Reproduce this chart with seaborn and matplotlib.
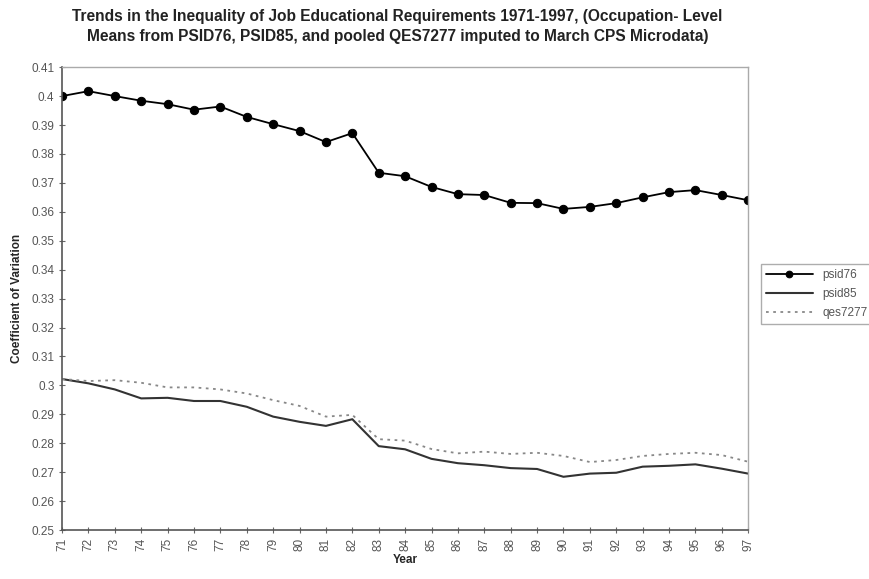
import matplotlib
matplotlib.use("Agg")
import matplotlib.pyplot as plt
import matplotlib.ticker as mticker
import seaborn as sns
import pandas as pd

# data
years = list(range(71, 98))
psid76 = [0.4000, 0.4017, 0.4000, 0.3984, 0.3972, 0.3953, 0.3964, 0.3928, 0.3903,
          0.3879, 0.3841, 0.3872, 0.3735, 0.3723, 0.3686, 0.3661, 0.3658, 0.3631,
          0.3630, 0.3610, 0.3617, 0.3630, 0.3650, 0.3668, 0.3675, 0.3658, 0.3640]
psid85 = [0.3022, 0.3007, 0.2986, 0.2955, 0.2957, 0.2946, 0.2946, 0.2926, 0.2892,
          0.2874, 0.2860, 0.2883, 0.2790, 0.2779, 0.2746, 0.2731, 0.2724, 0.2714,
          0.2711, 0.2684, 0.2695, 0.2698, 0.2719, 0.2722, 0.2727, 0.2712, 0.2695]
qes7277 = [0.3022, 0.3015, 0.3018, 0.3009, 0.2993, 0.2993, 0.2986, 0.2972, 0.2949,
           0.2929, 0.2892, 0.2898, 0.2814, 0.2809, 0.2780, 0.2765, 0.2771, 0.2763,
           0.2767, 0.2756, 0.2735, 0.2742, 0.2756, 0.2763, 0.2767, 0.2759, 0.2736]
title = ("Trends in the Inequality of Job Educational Requirements 1971-1997, (Occupation- Level\n"
         "Means from PSID76, PSID85, and pooled QES7277 imputed to March CPS Microdata)")

df = pd.DataFrame({"year": years, "psid76": psid76, "psid85": psid85, "qes7277": qes7277})

sns.set_theme(style="white")
plt.rcParams["font.family"] = ["Liberation Sans", "DejaVu Sans"]

fig = plt.figure(figsize=(8.7, 5.79), dpi=100)
ax = fig.add_axes([0.0713, 0.0846, 0.7887, 0.7994])

sns.lineplot(data=df, x="year", y="psid76", ax=ax, color="black", linewidth=1.3,
             marker="o", markersize=6, markeredgecolor="black", label="psid76")
sns.lineplot(data=df, x="year", y="psid85", ax=ax, color="#333333", linewidth=1.5,
             label="psid85")
sns.lineplot(data=df, x="year", y="qes7277", ax=ax, color="#888888", linewidth=1.3,
             linestyle=(0, (1.5, 2.5)), label="qes7277")

ax.set_xlim(71, 97)
ax.set_ylim(0.25, 0.41)
ax.set_xticks(years)
ax.set_xticklabels([str(y) for y in years], rotation=90, fontsize=8.5, color="#555555")
ax.set_yticks([0.25 + 0.01 * i for i in range(17)])
ax.yaxis.set_major_formatter(mticker.FuncFormatter(lambda v, p: f"{round(v, 2):g}"))
ax.tick_params(axis="y", labelsize=8.5, labelcolor="#555555")
ax.tick_params(axis="both", which="major", direction="inout", length=5, width=0.8,
               color="#666666", bottom=True, left=True, pad=3)

for side in ["top", "right"]:
    ax.spines[side].set_color("#aaaaaa")
    ax.spines[side].set_linewidth(1)
for side in ["left", "bottom"]:
    ax.spines[side].set_color("#555555")
    ax.spines[side].set_linewidth(1.2)

ax.set_xlabel("Year", fontsize=8.5, fontweight="bold", labelpad=2)
ax.set_ylabel("Coefficient of Variation", fontsize=8.5, fontweight="bold", labelpad=6)
fig.suptitle(title, fontsize=11.2, fontweight="bold", x=0.457, y=0.985, color="#222222",
             linespacing=1.45)

leg = ax.legend(loc="center left", bbox_to_anchor=(1.01, 0.51), fontsize=8.5,
                frameon=True, fancybox=False, edgecolor="#999999", handlelength=4,
                borderpad=0.4, labelspacing=0.6, markerscale=0.8)
for t in leg.get_texts():
    t.set_color("#555555")

fig.savefig("out.png", dpi=100)
